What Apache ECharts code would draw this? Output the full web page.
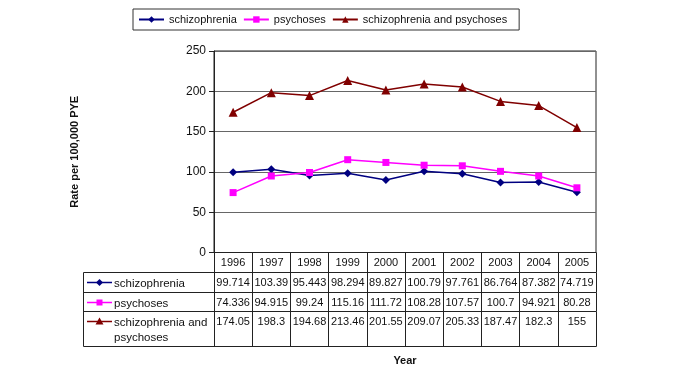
<!DOCTYPE html>
<html><head><meta charset="utf-8">
<script src="https://cdn.jsdelivr.net/npm/echarts@6/dist/echarts.min.js"></script>
<style>html,body{margin:0;padding:0;background:#fff}#c{width:678px;height:381px}</style>
</head><body><div id="c"></div>
<script>
const years = ['1996','1997','1998','1999','2000','2001','2002','2003','2004','2005'];
const schizophrenia = [99.714, 103.39, 95.443, 98.294, 89.827, 100.79, 97.761, 86.764, 87.382, 74.719];
const psychoses = [74.336, 94.915, 99.24, 115.16, 111.72, 108.28, 107.57, 100.7, 94.921, 80.28];
const combined = [174.05, 198.3, 194.68, 213.46, 201.55, 209.07, 205.33, 187.47, 182.3, 155];
const seriesNames = ['schizophrenia', 'psychoses', 'schizophrenia and psychoses'];
const rowLabels = ['schizophrenia', 'psychoses', 'schizophrenia and\npsychoses'];
const colors = ['#000080', '#ff00ff', '#800000'];
const symbols = ['diamond', 'rect', 'triangle'];
const symbolSizes = [8, 7, 9];

const FONT = 'Liberation Sans, Arial, sans-serif';
const LINE = '#222';
const chart = echarts.init(document.getElementById('c'));

// table row layout (offsets below the plot bottom)
const rowOffsets = [0, 20, 40, 59, 94];
const plotBottom = 252.5, tableLeft = 83.5, gridLeft = 214;

function tableAxis(data, idx) {
  const last = idx === rowOffsets.length - 1;
  return {
    type: 'category', data: data || years, gridIndex: 0, position: 'bottom',
    offset: rowOffsets[idx],
    axisLine: { show: true, lineStyle: { color: LINE, width: 1 } },
    axisTick: { show: !last, length: last ? 0 : rowOffsets[idx + 1] - rowOffsets[idx], lineStyle: { color: LINE } },
    axisLabel: { show: !last, interval: 0, margin: 5, fontSize: 11, color: '#111', fontFamily: FONT },
    splitLine: { show: false },
    name: last ? 'Year' : '', nameLocation: 'middle', nameGap: 9,
    nameTextStyle: { fontWeight: 'bold', fontSize: 11, color: '#111', fontFamily: FONT }
  };
}

const rowData = [schizophrenia, psychoses, combined];
const graphics = [];
const rowYs = rowOffsets.slice(1).map(o => plotBottom + o);
rowYs.forEach(y => graphics.push({ type: 'line', shape: { x1: tableLeft, y1: y, x2: gridLeft, y2: y }, style: { stroke: LINE, lineWidth: 1 } }));
graphics.push({ type: 'line', shape: { x1: tableLeft, y1: rowYs[0], x2: tableLeft, y2: rowYs[rowYs.length - 1] }, style: { stroke: LINE, lineWidth: 1 } });
rowLabels.forEach((lab, i) => {
  const yTop = rowYs[i];
  const cy = yTop + 10;
  graphics.push({ type: 'line', shape: { x1: 87, y1: cy, x2: 112, y2: cy }, style: { stroke: colors[i], lineWidth: 1.5 } });
  let shape;
  if (i === 0) shape = { type: 'polygon', shape: { points: [[99.5, cy - 3.5], [103, cy], [99.5, cy + 3.5], [96, cy]] }, style: { fill: colors[i] } };
  else if (i === 1) shape = { type: 'rect', shape: { x: 96.5, y: cy - 3, width: 6, height: 6 }, style: { fill: colors[i] } };
  else shape = { type: 'polygon', shape: { points: [[99.5, cy - 4], [103.5, cy + 3], [95.5, cy + 3]] }, style: { fill: colors[i] } };
  graphics.push(shape);
  graphics.push({ type: 'text', left: 114, top: yTop + 4, style: { text: lab, fontSize: 11.5, fill: '#111', fontFamily: FONT, lineHeight: 15 } });
});

chart.setOption({
  animation: false,
  backgroundColor: '#fff',
  textStyle: { fontFamily: FONT },
  legend: {
    left: 133, top: 9, itemWidth: 25, itemHeight: 8, itemGap: 6,
    padding: [5, 12, 5, 5],
    borderColor: '#333', borderWidth: 1,
    textStyle: { fontSize: 11, color: '#111', fontFamily: FONT },
    data: seriesNames
  },
  grid: { left: gridLeft, right: 82, top: 51, bottom: 381 - plotBottom, show: true, borderColor: LINE, borderWidth: 1, containLabel: false },
  xAxis: [tableAxis(years, 0), tableAxis(schizophrenia.map(String), 1), tableAxis(psychoses.map(String), 2), tableAxis(combined.map(String), 3), tableAxis(years, 4)],
  yAxis: {
    type: 'value', min: 0, max: 250, interval: 50,
    axisLine: { show: true, lineStyle: { color: LINE } },
    axisTick: { show: true, length: 5, lineStyle: { color: LINE } },
    axisLabel: { fontSize: 12, color: '#111', margin: 8, fontFamily: FONT },
    splitLine: { show: true, lineStyle: { color: '#666', width: 1 } },
    name: 'Rate per 100,000 PYE', nameLocation: 'middle', nameGap: 134,
    nameTextStyle: { fontWeight: 'bold', fontSize: 11, color: '#111', fontFamily: FONT }
  },
  series: rowData.map((d, i) => ({
    name: seriesNames[i], type: 'line', data: d, xAxisIndex: 0,
    symbol: symbols[i], symbolSize: symbolSizes[i],
    lineStyle: { color: colors[i], width: 1.5 }, itemStyle: { color: colors[i] }
  })),
  graphic: graphics
});
</script></body></html>
